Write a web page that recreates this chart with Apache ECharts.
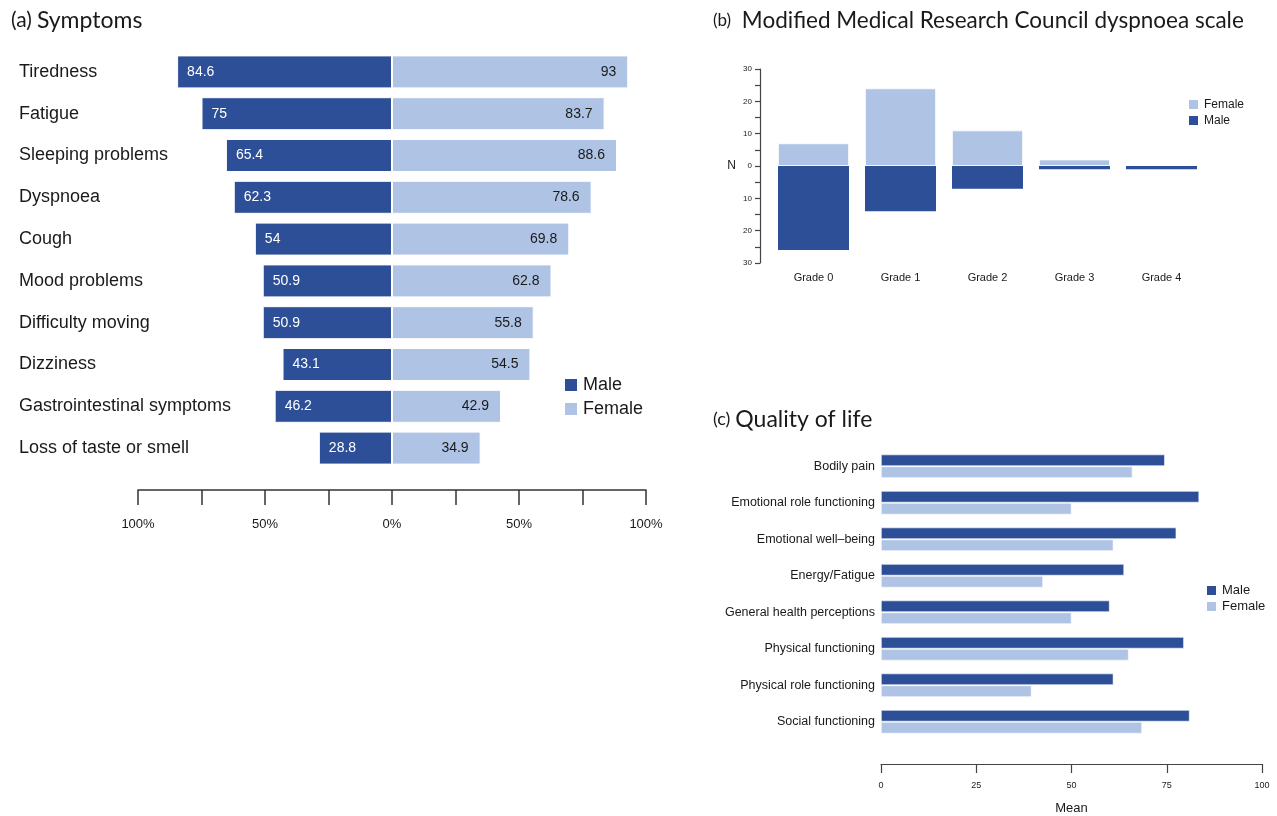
<!DOCTYPE html>
<html>
<head>
<meta charset="utf-8">
<script src="https://cdn.jsdelivr.net/npm/echarts@6/dist/echarts.min.js"></script>
<style>
  html, body { margin: 0; padding: 0; background: #fff; }
  #main { width: 1277px; height: 816px; }
</style>
</head>
<body>
<div id="main"></div>
<script>
// (a) Symptoms, % reporting
const symptoms = ['Tiredness', 'Fatigue', 'Sleeping problems', 'Dyspnoea', 'Cough', 'Mood problems',
  'Difficulty moving', 'Dizziness', 'Gastrointestinal symptoms', 'Loss of taste or smell'];
const symptomsMale = [84.6, 75, 65.4, 62.3, 54, 50.9, 50.9, 43.1, 46.2, 28.8];
const symptomsFemale = [93, 83.7, 88.6, 78.6, 69.8, 62.8, 55.8, 54.5, 42.9, 34.9];

// (b) mMRC dyspnoea scale, counts
const grades = ['Grade 0', 'Grade 1', 'Grade 2', 'Grade 3', 'Grade 4'];
const mrcFemale = [7, 24, 11, 2, 0];
const mrcMale = [26, 14, 7, 1, 1];

// (c) Quality of life, mean score
const qolDomains = ['Bodily pain', 'Emotional role functioning', 'Emotional well\u2013being', 'Energy/Fatigue',
  'General health perceptions', 'Physical functioning', 'Physical role functioning', 'Social functioning'];
const qolMale = [74.5, 83.5, 77.5, 63.8, 60, 79.5, 61, 81];
const qolFemale = [66, 50, 61, 42.5, 50, 65, 39.5, 68.5];

const MALE = '#2c4f98';
const FEMALE = '#afc3e5';
const TXT = '#1a1a1a';
const SANS = '"Liberation Sans", Arial, sans-serif';
const TITLE = 'Lato, "Open Sans", sans-serif';

const chart = echarts.init(document.getElementById('main'));

function panelTitle(tag, text, left, top, tagSize, size) {
  return {
    left: left, top: top,
    text: '{p|' + tag + '} {t|' + text + '}',
    textStyle: { rich: {
      p: { fontFamily: TITLE, fontWeight: 'normal', fontSize: tagSize, color: TXT },
      t: { fontFamily: TITLE, fontWeight: 'normal', fontSize: size, color: TXT }
    } }
  };
}

const option = {
  animation: false,
  textStyle: { fontFamily: SANS, color: TXT },
  title: [
    panelTitle('(a)', 'Symptoms', 6, 4, 21, 23),
    panelTitle('(b)', ' Modified Medical Research Council dyspnoea scale', 708, 4, 17, 22.5),
    panelTitle('(c)', 'Quality of life', 708, 403, 18, 23)
  ],
  legend: [
    {
      data: ['Male', 'Female'], left: 558, top: 371, orient: 'vertical',
      icon: 'rect', itemWidth: 14, itemHeight: 14, itemGap: 6,
      textStyle: { fontSize: 18, color: TXT, fontFamily: SANS }
    },
    {
      data: ['Female', 'Male'], left: 1182, top: 93, orient: 'vertical',
      icon: 'rect', itemWidth: 11, itemHeight: 11, itemGap: 3,
      textStyle: { fontSize: 12, color: TXT, fontFamily: SANS }
    },
    {
      data: ['Male', 'Female'], left: 1200, top: 579, orient: 'vertical',
      icon: 'rect', itemWidth: 11, itemHeight: 11, itemGap: 3,
      textStyle: { fontSize: 13, color: TXT, fontFamily: SANS }
    }
  ],
  grid: [
    { left: 138, top: 51, width: 508, height: 418 },
    { left: 770, top: 69, width: 435, height: 194 },
    { left: 881, top: 448, width: 381, height: 296 }
  ],
  xAxis: [
    {
      gridIndex: 0, type: 'value', min: -100, max: 100, interval: 25, offset: 21,
      axisLine: { show: true, lineStyle: { color: '#333', width: 1.5 } },
      axisTick: { show: true, length: 15, lineStyle: { color: '#333', width: 1.5 } },
      splitLine: { show: false },
      axisLabel: {
        fontSize: 13, color: TXT, margin: 28,
        formatter: v => (Math.abs(v) % 50 === 0 ? Math.abs(v) + '%' : '')
      }
    },
    {
      gridIndex: 1, type: 'category', data: grades,
      axisLine: { show: false }, axisTick: { show: false },
      axisLabel: { fontSize: 11, color: TXT, margin: 9 }
    },
    {
      gridIndex: 2, type: 'value', min: 0, max: 100, interval: 25, offset: 24,
      axisLine: { show: true, lineStyle: { color: '#444', width: 1.2 } },
      axisTick: { show: true, length: 9, lineStyle: { color: '#444', width: 1.2 } },
      splitLine: { show: false },
      axisLabel: { fontSize: 9, color: TXT, margin: 17 },
      name: 'Mean', nameLocation: 'middle', nameGap: 38,
      nameTextStyle: { fontSize: 13, color: TXT }
    }
  ],
  yAxis: [
    {
      gridIndex: 0, type: 'category', data: symptoms, inverse: true,
      axisLine: { show: false }, axisTick: { show: false },
      axisLabel: { fontSize: 18, color: TXT, align: 'left', margin: 119 }
    },
    {
      gridIndex: 1, type: 'value', min: -30, max: 30, interval: 5, offset: 10,
      axisLine: { show: true, lineStyle: { color: '#444', width: 1.2 } },
      axisTick: { show: true, length: 5, lineStyle: { color: '#444', width: 1.2 } },
      splitLine: { show: false },
      axisLabel: {
        fontSize: 8, color: TXT, margin: 8,
        formatter: v => (v % 10 === 0 ? String(Math.abs(v)) : '')
      },
      name: 'N', nameLocation: 'middle', nameRotate: 0, nameGap: 24,
      nameTextStyle: { fontSize: 12, color: TXT }
    },
    {
      gridIndex: 2, type: 'category', data: qolDomains, inverse: true,
      axisLine: { show: false }, axisTick: { show: false },
      axisLabel: { fontSize: 12.5, color: TXT, margin: 6 }
    }
  ],
  series: [
    {
      name: 'Male', type: 'bar', xAxisIndex: 0, yAxisIndex: 0, stack: 'sym',
      data: symptomsMale.map(v => -v), barWidth: 33,
      itemStyle: { color: MALE, borderColor: '#fff', borderWidth: 1 },
      label: {
        show: true, position: 'insideLeft', distance: 10, color: '#fff', fontSize: 14,
        formatter: p => String(Math.abs(p.value))
      }
    },
    {
      name: 'Female', type: 'bar', xAxisIndex: 0, yAxisIndex: 0, stack: 'sym',
      data: symptomsFemale, barWidth: 33,
      itemStyle: { color: FEMALE, borderColor: '#fff', borderWidth: 1 },
      label: { show: true, position: 'insideRight', distance: 12, color: TXT, fontSize: 14 }
    },
    {
      name: 'Female', type: 'bar', xAxisIndex: 1, yAxisIndex: 1, stack: 'mrc',
      data: mrcFemale, barWidth: 71,
      itemStyle: { color: FEMALE, borderColor: '#fff', borderWidth: 0.8 }
    },
    {
      name: 'Male', type: 'bar', xAxisIndex: 1, yAxisIndex: 1, stack: 'mrc',
      data: mrcMale.map(v => -v), barWidth: 71,
      itemStyle: { color: MALE }
    },
    {
      name: 'Male', type: 'bar', xAxisIndex: 2, yAxisIndex: 2,
      data: qolMale, barWidth: 11.5, barGap: '4%',
      itemStyle: { color: MALE, borderColor: '#fff', borderWidth: 0.6 }
    },
    {
      name: 'Female', type: 'bar', xAxisIndex: 2, yAxisIndex: 2,
      data: qolFemale, barWidth: 11.5, barGap: '4%',
      itemStyle: { color: FEMALE, borderColor: '#fff', borderWidth: 0.6 }
    }
  ]
};

chart.setOption(option);
</script>
</body>
</html>
